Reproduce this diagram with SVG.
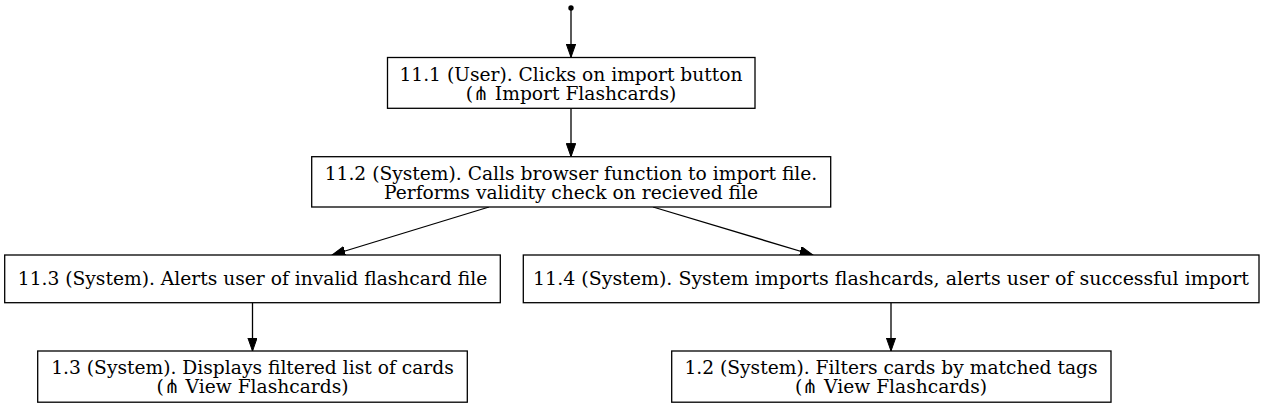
<svg xmlns="http://www.w3.org/2000/svg" width="1264" height="407" viewBox="0 0 1264 407">
<style>
.box{fill:#fff;stroke:#000;stroke-width:1.3}
.t{font-family:"DejaVu Serif",serif;font-size:18.67px;fill:#000;text-anchor:middle}
.e{stroke:#000;stroke-width:1.3;fill:none;marker-end:url(#ah)}
</style>
<defs>
<marker id="ah" markerUnits="userSpaceOnUse" markerWidth="14" markerHeight="10" refX="13.3" refY="4.7" orient="auto">
<path d="M0,0 L13.3,4.7 L0,9.4 Z" fill="#000" stroke="#000" stroke-width="1"/>
</marker>
</defs>
<rect width="1264" height="407" fill="#fff"/>
<g id="connectors">
<circle cx="571" cy="8" r="2.7" fill="#000"/>
<line class="e" x1="571" y1="10" x2="571" y2="57.3"/>
<line class="e" x1="571" y1="108.3" x2="571" y2="156.7"/>
<line class="e" x1="489" y1="207" x2="332" y2="255"/>
<line class="e" x1="653" y1="207" x2="813" y2="255"/>
<line class="e" x1="252.5" y1="302.7" x2="252.5" y2="351"/>
<line class="e" x1="891" y1="302.7" x2="891" y2="351"/>
</g>
<g id="n11_1">
<rect class="box" x="387.5" y="57.5" width="367.5" height="50.8"/>
<text class="t" x="571" y="80.5">11.1 (User). Clicks on import button</text>
<text class="t" x="571" y="99.5">(⋔ Import Flashcards)</text>
</g>
<g id="n11_2">
<rect class="box" x="311.7" y="156.7" width="519" height="50.3"/>
<text class="t" x="571" y="179.7">11.2 (System). Calls browser function to import file.</text>
<text class="t" x="571" y="198.7">Performs validity check on recieved file</text>
</g>
<g id="n11_3">
<rect class="box" x="4.7" y="255" width="495.6" height="47.7"/>
<text class="t" x="252.5" y="285">11.3 (System). Alerts user of invalid flashcard file</text>
</g>
<g id="n11_4">
<rect class="box" x="523.3" y="255" width="735.7" height="47.7"/>
<text class="t" x="891" y="285" textLength="716" lengthAdjust="spacingAndGlyphs">11.4 (System). System imports flashcards, alerts user of successful import</text>
</g>
<g id="n1_3">
<rect class="box" x="37.7" y="351" width="429.6" height="51.2"/>
<text class="t" x="252.5" y="374">1.3 (System). Displays filtered list of cards</text>
<text class="t" x="252.5" y="393">(⋔ View Flashcards)</text>
</g>
<g id="n1_2">
<rect class="box" x="671.7" y="351" width="439.3" height="51.2"/>
<text class="t" x="891" y="374">1.2 (System). Filters cards by matched tags</text>
<text class="t" x="891" y="393">(⋔ View Flashcards)</text>
</g>
</svg>
